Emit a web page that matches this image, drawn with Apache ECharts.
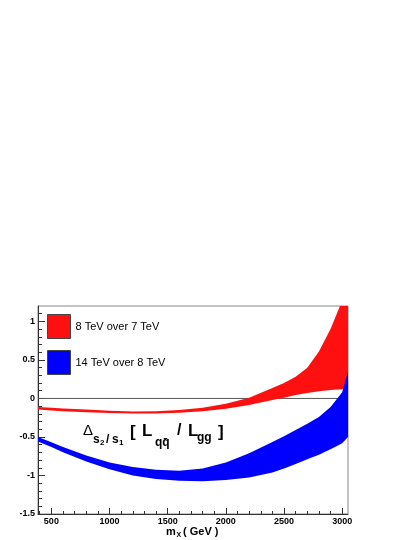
<!DOCTYPE html>
<html>
<head>
<meta charset="utf-8">
<script src="https://cdn.jsdelivr.net/npm/echarts@6/dist/echarts.min.js"></script>
<style>
html, body { margin: 0; padding: 0; background: #fff; }
#chart { width: 417px; height: 540px; }
</style>
</head>
<body>
<div id="chart"></div>
<script>
// mass points (GeV) and band edges
const massX = [385, 500, 600, 800, 1000, 1200, 1400, 1600, 1800, 2000, 2200, 2400, 2500, 2600, 2700, 2800, 2900, 3000, 3050]
const red87Hi = [-0.11, -0.12, -0.13, -0.145, -0.16, -0.17, -0.165, -0.15, -0.12, -0.07, 0.01, 0.135, 0.2, 0.28, 0.4, 0.61, 0.9, 1.27, 1.6]
const red87Lo = [-0.145, -0.155, -0.165, -0.18, -0.19, -0.195, -0.195, -0.185, -0.165, -0.135, -0.085, -0.02, 0.01, 0.045, 0.07, 0.095, 0.11, 0.12, 0.12]
const blue148Hi = [-0.5, -0.57, -0.63, -0.74, -0.83, -0.89, -0.925, -0.94, -0.91, -0.83, -0.71, -0.565, -0.49, -0.41, -0.33, -0.24, -0.11, 0.08, 0.35]
const blue148Lo = [-0.56, -0.63, -0.7, -0.82, -0.92, -1.0, -1.045, -1.07, -1.075, -1.06, -1.025, -0.96, -0.91, -0.85, -0.79, -0.73, -0.66, -0.58, -0.5]
const seriesNames = ['8 TeV over 7 TeV', '14 TeV over 8 TeV']

const xTicks = [500, 1000, 1500, 2000, 2500, 3000]
const yTicks = [-1.5, -1, -0.5, 0, 0.5, 1]

const xMinor = []
for (let v = 400; v <= 3000; v += 100) if (v % 500 !== 0) xMinor.push(v)
const yMinor = []
for (let i = -14; i <= 11; i++) if (i % 5 !== 0) yMinor.push(i / 10)

const font = 'Liberation Sans'
const xMin = 385
const xMax = 3050
const yMin = -1.5
const yMax = 1.2

const bandData = (lo, hi) => massX.map((x, i) => [x, lo[i], hi[i]])

// one polygon per band: upper edge left->right, lower edge back
const bandRenderer = (color) => (params, api) => {
    if (params.dataIndexInside !== 0) return
    const n = params.dataInsideLength
    const pts = []
    for (let i = 0; i < n; i++) pts.push(api.coord([api.value(0, i), api.value(2, i)]))
    for (let i = n - 1; i >= 0; i--) pts.push(api.coord([api.value(0, i), api.value(1, i)]))
    return {
        type: 'polygon',
        shape: { points: pts },
        style: { fill: color, stroke: null }
    }
}

const txt = (x, y, text, f) => ({
    type: 'text', x: x, y: y,
    style: { text: text, font: f, fill: '#000', textVerticalAlign: 'middle', verticalAlign: 'middle' }
})
const big = 'bold 17px "Liberation Sans"'
const sub = 'bold 12px "Liberation Sans"'
const idx = 'bold 8px "Liberation Sans"'

const myChart = echarts.init(document.getElementById('chart'))

const option = {
    animation: false,
    grid: {
        left: 38,
        right: 69,
        top: 306,
        bottom: 26,
        show: true,
        borderColor: '#888',
        borderWidth: 1
    },
    legend: {
        data: seriesNames,
        orient: 'vertical',
        left: 47,
        top: 314,
        padding: 0,
        itemWidth: 23,
        itemHeight: 24,
        itemGap: 11,
        icon: 'rect',
        itemStyle: { borderColor: '#444', borderWidth: 1 },
        textStyle: { fontFamily: font, fontSize: 11, color: '#000' },
        selectedMode: false
    },
    xAxis: [
        {
            type: 'value',
            position: 'bottom',
            min: xMin,
            max: xMax,
            axisLine: { show: true, onZero: false, lineStyle: { color: '#333', width: 1 } },
            axisTick: { show: true, inside: true, length: 6, customValues: xTicks, lineStyle: { color: '#333' } },
            axisLabel: {
                customValues: xTicks,
                margin: 3,
                fontFamily: font,
                fontSize: 9,
                fontWeight: 'bold',
                color: '#000',
                formatter: (v) => String(v)
            },
            splitLine: { show: false }
        },
        {
            type: 'value',
            position: 'bottom',
            min: xMin,
            max: xMax,
            axisLine: { show: false, onZero: false },
            axisTick: { show: true, inside: true, length: 3, customValues: xMinor, lineStyle: { color: '#333' } },
            axisLabel: { show: false },
            splitLine: { show: false }
        }
    ],
    yAxis: [
        {
            type: 'value',
            position: 'left',
            min: yMin,
            max: yMax,
            axisLine: { show: true, onZero: false, lineStyle: { color: '#333', width: 1 } },
            axisTick: { show: true, inside: true, length: 7, customValues: yTicks, lineStyle: { color: '#333' } },
            axisLabel: {
                customValues: yTicks,
                margin: 3,
                fontFamily: font,
                fontSize: 9,
                fontWeight: 'bold',
                color: '#000'
            },
            splitLine: { show: false }
        },
        {
            type: 'value',
            position: 'left',
            min: yMin,
            max: yMax,
            axisLine: { show: false, onZero: false },
            axisTick: { show: true, inside: true, length: 4, customValues: yMinor, lineStyle: { color: '#333' } },
            axisLabel: { show: false },
            splitLine: { show: false }
        }
    ],
    graphic: [
        // Δ_{s2/s1} [ L_{qq̄} / L_{gg} ]
        txt(83, 430.5, 'Δ', '15px "Liberation Sans"'),
        txt(93, 439.5, 's', sub),
        txt(100, 442.5, '2', idx),
        txt(106, 439.5, '/', sub),
        txt(112, 439.5, 's', sub),
        txt(119, 442.5, '1', idx),
        txt(130, 432.5, '[', big),
        txt(142, 431, 'L', big),
        txt(155, 443, 'qq\u0304', sub),
        txt(177, 431, '/', 'bold 16px "Liberation Sans"'),
        txt(188, 431, 'L', big),
        txt(197, 437.5, 'gg', sub),
        txt(218, 432.5, ']', big),
        // axis title m_X ( GeV )
        txt(166, 532, 'm', 'bold 11px "Liberation Sans"'),
        txt(176.5, 535, 'X', 'bold 7px "Liberation Sans"'),
        txt(183, 532, '( GeV )', 'bold 11px "Liberation Sans"')
    ],
    series: [
        {
            name: 'zero',
            type: 'line',
            z: 1,
            silent: true,
            symbol: 'none',
            data: [[xMin, 0], [xMax, 0]],
            lineStyle: { color: '#555', width: 1 }
        },
        {
            name: seriesNames[0],
            type: 'custom',
            z: 3,
            clip: true,
            silent: true,
            encode: { x: 0, y: [1, 2] },
            data: bandData(red87Lo, red87Hi),
            itemStyle: { color: '#ff1010' },
            renderItem: bandRenderer('#ff1010')
        },
        {
            name: seriesNames[1],
            type: 'custom',
            z: 4,
            clip: true,
            silent: true,
            encode: { x: 0, y: [1, 2] },
            data: bandData(blue148Lo, blue148Hi),
            itemStyle: { color: '#0000ff' },
            renderItem: bandRenderer('#0000ff')
        }
    ]
}
myChart.setOption(option)
</script>
</body>
</html>
